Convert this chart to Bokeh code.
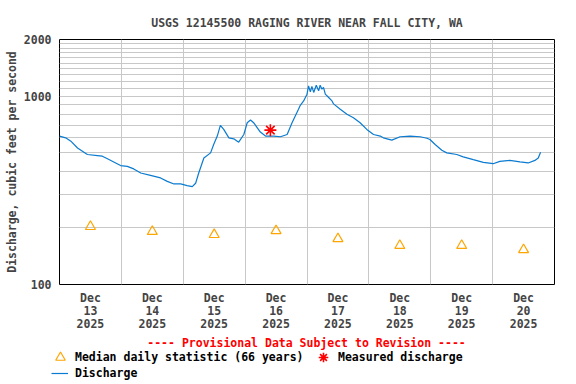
from bokeh.plotting import figure
from bokeh.models import Range1d, FixedTicker, PrintfTickFormatter, Legend, LegendItem, Label
from bokeh.embed import file_html
from bokeh.resources import INLINE

# ---------------- data ----------------
title_text = "USGS 12145500 RAGING RIVER NEAR FALL CITY, WA"
y_label = "Discharge, cubic feet per second"
provisional = "---- Provisional Data Subject to Revision ----"
legend_labels = ["Median daily statistic (66 years)", "Measured discharge", "Discharge"]

# hours since 2025-12-13 00:00
day_tick_hours = [12, 36, 60, 84, 108, 132, 156, 180]
day_tick_labels = ["Dec\n13\n2025", "Dec\n14\n2025", "Dec\n15\n2025", "Dec\n16\n2025",
                   "Dec\n17\n2025", "Dec\n18\n2025", "Dec\n19\n2025", "Dec\n20\n2025"]
day_grid_hours = [24, 48, 72, 96, 120, 144, 168]

y_ticks = [100, 1000, 2000]
y_grid = [200, 300, 400, 500, 600, 700, 800, 900, 1000,
          1100, 1200, 1300, 1400, 1500, 1600, 1700, 1800, 1900]

median_hours = [12, 36, 60, 84, 108, 132, 156, 180]
median_cfs = [203, 191, 184, 193, 175, 161, 161, 153]

measured_hours = [81.8]
measured_cfs = [660]

q_hours = [0.0, 2.4, 4.4, 7.0, 10.8, 14.7, 16.6, 18.6, 21.8, 23.7,
           26.3, 28.8, 31.5, 35.3, 39.2, 41.8, 44.4, 47.0, 49.5, 51.5,
           52.8, 54.0, 56.0, 58.6, 59.8, 61.2, 62.4, 63.7, 65.7, 67.6,
           69.5, 71.5, 72.8, 74.1, 75.3, 77.9, 79.9, 83.1, 85.7, 88.3,
           90.2, 92.7, 93.4, 94.7, 96.0, 96.6, 97.3, 97.9, 98.6, 99.6,
           100.5, 101.1, 101.8, 102.4, 103.1, 104.4, 105.7, 106.3, 108.9, 111.5,
           114.0, 116.6, 119.2, 121.8, 124.4, 125.6, 128.9, 132.1, 136.0, 139.9,
           142.5, 143.7, 145.7, 148.3, 150.2, 154.1, 156.6, 160.5, 164.4, 168.2,
           170.8, 174.7, 178.6, 181.8, 184.4, 185.7, 186.6]
q_cfs = [614, 601, 577, 531, 490, 484, 480, 465, 442, 428,
         424, 411, 391, 380, 368, 353, 342, 342, 335, 331,
         345, 391, 470, 500, 554, 614, 700, 666, 601, 594,
         570, 626, 723, 747, 723, 645, 614, 614, 609, 626,
         723, 852, 895, 944, 1025, 1135, 1054, 1127, 1047, 1143,
         1068, 1143, 1090, 1113, 1025, 984, 944, 910, 852, 801,
         769, 723, 666, 626, 614, 601, 584, 609, 614, 609,
         598, 589, 554, 516, 500, 490, 476, 460, 445, 438,
         451, 456, 448, 442, 456, 470, 504]

# ---------------- styling ----------------
FONT = "DejaVu Sans Mono"
FS = "11.5px"
BLUE = "#0a7bd0"
ORANGE = "#ffa500"
RED = "#ff0000"
GRID = "#c8c8c8"

p = figure(width=576, height=334, output_backend="svg", toolbar_location=None,
           y_axis_type="log",
           x_range=Range1d(0, 192), y_range=Range1d(100, 2000),
           min_border_left=59, min_border_right=22, min_border_top=39, min_border_bottom=50,
           background_fill_color="white", border_fill_color="white")

p.title.text = title_text
p.title.align = "center"
p.title.text_font = FONT
p.title.text_font_size = FS
p.title.text_font_style = "bold"
p.title.standoff = 19

p.outline_line_color = "black"
p.outline_line_width = 1
p.outline_line_alpha = 1

# x axis
xa = p.xaxis[0]
xa.ticker = FixedTicker(ticks=day_tick_hours)
xa.major_label_overrides = {h: lab for h, lab in zip(day_tick_hours, day_tick_labels)}
xa.major_label_text_font = FONT
xa.major_label_text_font_size = FS
xa.major_label_text_font_style = "bold"
xa.major_label_text_line_height = 0.95
xa.major_label_standoff = 6
xa.axis_line_color = None
xa.major_tick_line_color = None
xa.minor_tick_line_color = None
xa.major_tick_out = 0
xa.major_tick_in = 0

# y axis
ya = p.yaxis[0]
ya.ticker = FixedTicker(ticks=y_ticks)
ya.formatter = PrintfTickFormatter(format="%d")
ya.axis_label = y_label
ya.axis_label_text_font = FONT
ya.axis_label_text_font_size = FS
ya.axis_label_text_font_style = "bold"
ya.axis_label_standoff = 2
ya.major_label_text_font = FONT
ya.major_label_text_font_size = FS
ya.major_label_text_font_style = "bold"
ya.major_label_standoff = 8
ya.axis_line_color = None
ya.major_tick_line_color = None
ya.minor_tick_line_color = None
ya.major_tick_out = 0
ya.major_tick_in = 0

p.xgrid.ticker = FixedTicker(ticks=day_grid_hours)
p.ygrid.ticker = FixedTicker(ticks=y_grid)
for g in (p.xgrid[0], p.ygrid[0]):
    g.grid_line_color = GRID
    g.grid_line_width = 1

# glyphs
med_style = dict(marker="triangle", size=10, fill_color=None, line_color=ORANGE, line_width=1.2)
meas_style = dict(marker="asterisk", size=12, line_color=RED, line_width=1.6)
q_style = dict(line_color=BLUE, line_width=1.2)

p.line(q_hours, q_cfs, **q_style)
p.scatter(median_hours, median_cfs, **med_style)
p.scatter(measured_hours, measured_cfs, **meas_style)

# ---------------- footer strip: provisional note + legend (proxies hold no visible data) ----------------
nan = float("nan")
pl = figure(width=576, height=50, output_backend="svg", toolbar_location=None,
            x_range=Range1d(0, 1), y_range=Range1d(0, 1),
            x_axis_location=None, y_axis_location=None,
            min_border_left=0, min_border_right=0, min_border_top=0, min_border_bottom=0,
            outline_line_color=None, background_fill_color="white",
            border_fill_color="white")
pl.grid.visible = False

pl.add_layout(Label(x=306, y=41.3, x_units="screen", y_units="screen", text=provisional,
                    text_align="center", text_baseline="middle", text_color=RED,
                    text_font=FONT, text_font_size=FS, text_font_style="bold"))

l_med = pl.scatter([nan], [nan], **med_style)
l_meas = pl.scatter([nan], [nan], **meas_style)
l_q = pl.line([nan], [nan], **q_style)

common = dict(padding=0, margin=0, border_line_color=None, background_fill_alpha=0,
              label_text_font=FONT, label_text_font_size=FS, label_text_font_style="bold",
              label_text_color="black", orientation="horizontal")

legend_a = Legend(items=[
    LegendItem(label=legend_labels[0], renderers=[l_med]),
    LegendItem(label=legend_labels[1], renderers=[l_meas]),
], location=(48, 15.3), spacing=4, glyph_width=24, glyph_height=24,
   label_height=14, label_width=232, label_standoff=3, **common)
legend_b = Legend(items=[
    LegendItem(label=legend_labels[2], renderers=[l_q]),
], location=(51, 4.3), spacing=0, glyph_width=17, glyph_height=14,
   label_height=14, label_width=20, label_standoff=7, **common)
pl.add_layout(legend_a, "center")
pl.add_layout(legend_b, "center")

open("out.html", "w").write(file_html([p, pl], INLINE))
